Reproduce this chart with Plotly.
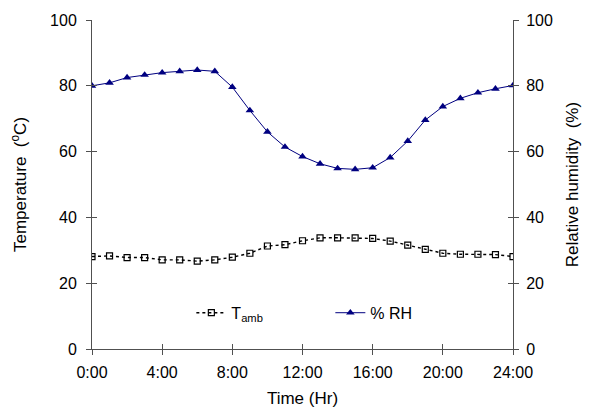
import plotly.graph_objects as go

hours = list(range(0, 25))
t_amb = [28.1, 28.3, 27.8, 27.8, 27.1, 27.1, 26.7, 27.1, 27.9, 29.1, 31.3, 31.7, 32.9,
         33.8, 33.8, 33.8, 33.6, 32.8, 31.6, 30.3, 29.1, 28.8, 28.8, 28.7, 28.1]
rh = [80.0, 80.9, 82.5, 83.3, 84.0, 84.4, 84.8, 84.4, 79.6, 72.5, 66.0, 61.4, 58.5,
      56.3, 54.9, 54.6, 55.1, 58.2, 63.2, 69.6, 73.7, 76.2, 77.9, 79.1, 80.1]
x_tickvals = [0, 4, 8, 12, 16, 20, 24]
x_ticktext = ["0:00", "4:00", "8:00", "12:00", "16:00", "20:00", "24:00"]

FONT = "Liberation Sans, Arial, sans-serif"
AX = "#505050"
NAVY = "#000080"

fig = go.Figure()
fig.add_trace(go.Scatter(
    x=hours, y=t_amb, name="T<sub>amb</sub>", mode="lines+markers",
    line=dict(color="black", width=1.4, dash="dot"),
    marker=dict(symbol="square-open", size=6, color="black", line=dict(width=1.2)),
    xaxis="x", yaxis="y"))
fig.add_trace(go.Scatter(
    x=hours, y=rh, name="% RH", mode="lines+markers",
    line=dict(color=NAVY, width=1),
    marker=dict(symbol="triangle-up", size=7.5, color=NAVY),
    xaxis="x", yaxis="y2"))
# invisible helper traces that activate overlay axes drawing the inner half of each tick
fig.add_trace(go.Scatter(x=[None], y=[None], xaxis="x2", yaxis="y3", showlegend=False, hoverinfo="skip"))
fig.add_trace(go.Scatter(x=[None], y=[None], xaxis="x2", yaxis="y4", showlegend=False, hoverinfo="skip"))

tickfont = dict(family=FONT, size=16, color="black")
titlefont = dict(family=FONT, size=17, color="black")
common = dict(showgrid=False, zeroline=False, showline=True, linecolor=AX, linewidth=1,
              tickcolor=AX, ticklen=5, tickwidth=1, automargin=False)

fig.update_layout(
    width=583, height=401,
    margin=dict(l=84, r=78, t=12, b=60),
    plot_bgcolor="white", paper_bgcolor="white",
    font=dict(family=FONT, size=16, color="black"),
    xaxis=dict(range=[0, 24], tickvals=x_tickvals, ticktext=x_ticktext, ticks="outside",
               tickfont=tickfont, ticklabelstandoff=4,
               title=dict(text="Time (Hr)", font=titlefont, standoff=11),
               anchor="y", **common),
    xaxis2=dict(range=[0, 24], tickvals=x_tickvals, ticks="inside", showticklabels=False,
                overlaying="x", anchor="y3", **common),
    yaxis=dict(range=[0, 100], dtick=20, ticks="outside", tickfont=tickfont, ticklabelstandoff=6,
               title=dict(text="Temperature  (<sup>o</sup>C)", font=titlefont, standoff=20),
               anchor="x", **common),
    yaxis2=dict(range=[0, 100], dtick=20, ticks="outside", tickfont=tickfont, side="right",
                overlaying="y", anchor="x", ticklabelstandoff=4,
                title=dict(text="Relative humidity  (%)", font=titlefont, standoff=14),
                **common),
    yaxis3=dict(range=[0, 100], dtick=20, ticks="inside", showticklabels=False,
                overlaying="y", anchor="x2", side="left", **common),
    yaxis4=dict(range=[0, 100], dtick=20, ticks="inside", showticklabels=False,
                overlaying="y", anchor="x2", side="right", **common),
    legend=dict(orientation="h", x=0.236, y=0.11, xanchor="left", yanchor="middle",
                bgcolor="rgba(0,0,0,0)", font=dict(family=FONT, size=16),
                entrywidth=94),
    showlegend=True,
)

fig.write_html("out.html")
